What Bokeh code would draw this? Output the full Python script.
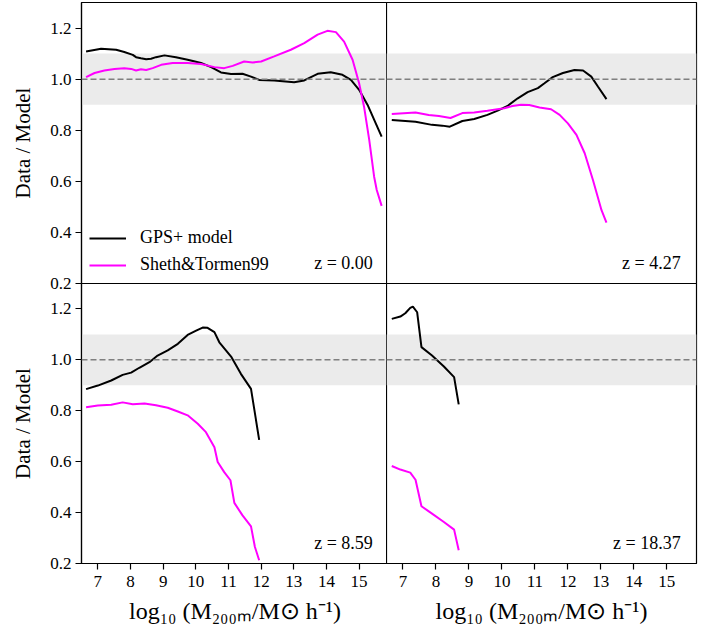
from bokeh.plotting import figure
from bokeh.layouts import row, column
from bokeh.models import (Range1d, BoxAnnotation, Span, Label, Legend, LegendItem,
                          FixedTicker, PrintfTickFormatter)
from bokeh.embed import file_html
from bokeh.resources import INLINE

SERIF = "Liberation Serif"

x_ticks = [7, 8, 9, 10, 11, 12, 13, 14, 15]
y_ticks = [0.2, 0.4, 0.6, 0.8, 1.0, 1.2]

# z = 0.00
z0_gps_x = [6.64, 7.10, 7.56, 7.81, 8.07, 8.17, 8.32, 8.48, 8.63, 8.78, 9.04, 9.39, 9.75, 10.16,
            10.47, 10.77, 11.08, 11.43, 11.69, 11.94, 12.40, 13.01, 13.32, 13.73, 14.13, 14.49,
            14.75, 15.00, 15.26, 15.51, 15.69]
z0_gps_y = [1.108, 1.119, 1.115, 1.106, 1.095, 1.086, 1.082, 1.078, 1.080, 1.086, 1.093, 1.086,
            1.076, 1.063, 1.047, 1.026, 1.020, 1.021, 1.010, 0.997, 0.995, 0.988, 0.995, 1.021,
            1.027, 1.017, 0.997, 0.958, 0.899, 0.827, 0.775]
z0_st_x = [6.64, 6.90, 7.20, 7.51, 7.81, 8.02, 8.17, 8.32, 8.48, 8.68, 8.94, 9.29, 9.75, 10.16,
           10.57, 10.87, 11.13, 11.48, 11.74, 12.00, 12.40, 12.91, 13.32, 13.73, 14.03, 14.29,
           14.54, 14.80, 15.00, 15.15, 15.31, 15.46, 15.54, 15.69]
z0_st_y = [1.008, 1.024, 1.034, 1.040, 1.043, 1.040, 1.034, 1.039, 1.036, 1.043, 1.056, 1.063,
           1.063, 1.059, 1.047, 1.043, 1.052, 1.069, 1.065, 1.069, 1.089, 1.115, 1.141, 1.174,
           1.189, 1.184, 1.147, 1.076, 0.984, 0.893, 0.762, 0.618, 0.566, 0.504]

# z = 4.27
z4_gps_x = [6.66, 7.38, 7.88, 8.19, 8.42, 8.80, 9.16, 9.56, 9.87, 10.17, 10.48, 10.78, 11.09,
            11.29, 11.54, 11.85, 12.20, 12.46, 12.71, 12.91, 13.17]
z4_gps_y = [0.840, 0.833, 0.821, 0.818, 0.814, 0.836, 0.844, 0.860, 0.877, 0.895, 0.925, 0.949,
            0.965, 0.984, 1.008, 1.024, 1.036, 1.034, 1.010, 0.971, 0.922]
z4_st_x = [6.66, 7.38, 7.78, 8.09, 8.44, 8.80, 9.16, 9.56, 10.07, 10.32, 10.58, 10.83, 11.14,
           11.49, 11.75, 12.00, 12.26, 12.51, 12.76, 13.02, 13.17]
z4_st_y = [0.864, 0.869, 0.860, 0.856, 0.848, 0.867, 0.869, 0.876, 0.886, 0.895, 0.900, 0.899,
           0.889, 0.882, 0.860, 0.827, 0.782, 0.710, 0.605, 0.487, 0.438]

# z = 8.59
z8_gps_x = [6.64, 7.00, 7.41, 7.76, 8.02, 8.27, 8.58, 8.83, 9.14, 9.45, 9.75, 10.01, 10.21,
            10.36, 10.57, 10.72, 11.08, 11.38, 11.69, 11.94]
z8_gps_y = [0.885, 0.899, 0.919, 0.941, 0.950, 0.969, 0.991, 1.017, 1.037, 1.063, 1.098, 1.115,
            1.127, 1.126, 1.109, 1.069, 1.013, 0.945, 0.886, 0.686]
z8_st_x = [6.64, 7.00, 7.41, 7.76, 8.07, 8.43, 8.78, 9.14, 9.45, 9.75, 10.06, 10.31, 10.57,
           10.67, 10.87, 11.06, 11.18, 11.43, 11.69, 11.81, 11.94]
z8_st_y = [0.814, 0.821, 0.824, 0.833, 0.826, 0.829, 0.822, 0.812, 0.797, 0.782, 0.749, 0.716,
           0.657, 0.599, 0.559, 0.527, 0.438, 0.389, 0.346, 0.265, 0.213]

# z = 18.37
z18_gps_x = [6.66, 6.92, 7.07, 7.22, 7.30, 7.43, 7.56, 7.88, 8.24, 8.55, 8.69]
z18_gps_y = [1.161, 1.170, 1.183, 1.204, 1.209, 1.187, 1.050, 1.017, 0.974, 0.932, 0.825]
z18_st_x = [6.66, 6.92, 7.22, 7.38, 7.56, 7.88, 8.24, 8.55, 8.69]
z18_st_y = [0.583, 0.569, 0.557, 0.529, 0.425, 0.396, 0.363, 0.333, 0.252]

z_labels = ["z = 0.00", "z = 4.27", "z = 8.59", "z = 18.37"]
series_names = ["GPS+ model", "Sheth&Tormen99"]
x_label = "log\u2081\u2080 (M\u2082\u2080\u2080\u2098/M\u2299 h\u207b\u00b9)"
y_label = "Data / Model"

xr = Range1d(6.5, 15.9)
yr = Range1d(0.2, 1.3)

OVER = 10
SHIFT = 2


def make_panel(left, bottom, zlab, gx, gy, sx, sy, legend=False):
    extra = {} if left else {"styles": {"margin-left": "-%dpx" % SHIFT}}
    p = figure(frame_width=307 if left else 308 + SHIFT, frame_height=280 if bottom else 281,
               x_range=xr, y_range=yr, output_backend="svg", toolbar_location=None,
               min_border_left=81 if left else 0, min_border_right=0 if left else 3,
               min_border_top=0 if bottom else 2, min_border_bottom=0 if bottom else OVER,
               background_fill_color="white", border_fill_color="white",
               border_fill_alpha=0.0 if (bottom or not left) else 1.0, **extra)
    p.grid.visible = False
    p.outline_line_color = "black"
    p.outline_line_width = 1.2

    p.add_layout(BoxAnnotation(bottom=0.9, top=1.1, fill_color="#ebebeb", fill_alpha=1.0,
                               line_color=None, level="underlay"))
    p.add_layout(Span(location=1.0, dimension="width", line_color="#7f7f7f",
                      line_dash="6 3", line_width=1.5))

    r1 = p.line(gx, gy, line_color="black", line_width=2)
    r2 = p.line(sx, sy, line_color="#ff00ff", line_width=2)

    # y axis
    if left:
        ax = p.yaxis[0]
        ax.ticker = FixedTicker(ticks=y_ticks)
        ax.formatter = PrintfTickFormatter(format="%.1f")
        ax.minor_tick_line_color = None
        ax.minor_tick_out = 0
        ax.major_tick_out = 6
        ax.major_tick_in = 0
        ax.major_label_standoff = 4
        ax.major_label_text_font = SERIF
        ax.major_label_text_font_size = "17px"
        ax.major_label_text_color = "black"
        ax.axis_line_color = "black"
        ax.axis_line_width = 1.2
        ax.major_tick_line_width = 1.2
        ax.axis_label = y_label
        ax.axis_label_text_font = SERIF
        ax.axis_label_text_font_size = "21px"
        ax.axis_label_text_font_style = "normal"
        ax.axis_label_text_color = "black"
        ax.axis_label_standoff = 12
    else:
        p.yaxis.visible = False

    # x axis
    if bottom:
        ax = p.xaxis[0]
        ax.ticker = FixedTicker(ticks=x_ticks)
        ax.minor_tick_line_color = None
        ax.minor_tick_out = 0
        ax.major_tick_out = 6
        ax.major_tick_in = 0
        ax.major_label_standoff = 6
        ax.major_label_text_font = SERIF
        ax.major_label_text_font_size = "17px"
        ax.major_label_text_color = "black"
        ax.axis_line_color = "black"
        ax.axis_line_width = 1.2
        ax.major_tick_line_width = 1.2
        ax.axis_label = x_label
        ax.axis_label_text_font = SERIF
        ax.axis_label_text_font_size = "24px"
        ax.axis_label_text_font_style = "normal"
        ax.axis_label_text_color = "black"
        ax.axis_label_standoff = 8
    else:
        p.xaxis.visible = False

    p.add_layout(Label(x=15.42, y=0.28, text=zlab, text_align="right",
                       text_baseline="alphabetic", text_font=SERIF,
                       text_font_size="18px", text_color="black"))

    if legend:
        lg = Legend(items=[LegendItem(label=series_names[0], renderers=[r1]),
                           LegendItem(label=series_names[1], renderers=[r2])],
                    location="bottom_left", border_line_color=None,
                    background_fill_alpha=0.0, margin=8, padding=6, spacing=6,
                    glyph_width=37, glyph_height=20, label_height=20, label_standoff=14,
                    label_text_font=SERIF, label_text_font_size="18px",
                    label_text_color="black")
        p.add_layout(lg)
    return p


tl = make_panel(True, False, z_labels[0], z0_gps_x, z0_gps_y, z0_st_x, z0_st_y, legend=True)
tr = make_panel(False, False, z_labels[1], z4_gps_x, z4_gps_y, z4_st_x, z4_st_y)
bl = make_panel(True, True, z_labels[2], z8_gps_x, z8_gps_y, z8_st_x, z8_st_y)
br = make_panel(False, True, z_labels[3], z18_gps_x, z18_gps_y, z18_st_x, z18_st_y)

layout = column(row(tl, tr), row(bl, br, styles={"margin-top": "-%dpx" % OVER}))

open("out.html", "w").write(file_html(layout, INLINE))
